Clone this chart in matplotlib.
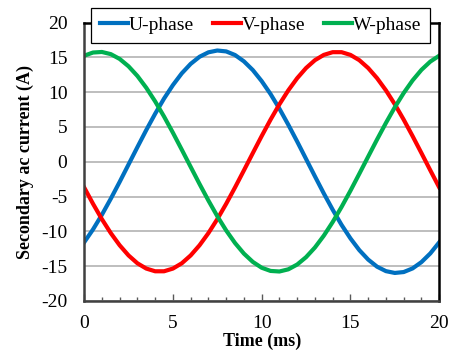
import matplotlib
matplotlib.use('Agg')
import matplotlib.pyplot as plt
from matplotlib.ticker import MultipleLocator

plt.rcParams['font.family'] = ['Liberation Serif', 'DejaVu Serif']
plt.rcParams['axes.unicode_minus'] = False

# sampled secondary currents, 0.5 ms steps
time_ms = [0.0, 0.5, 1.0, 1.5, 2.0, 2.5, 3.0, 3.5, 4.0, 4.5,
           5.0, 5.5, 6.0, 6.5, 7.0, 7.5, 8.0, 8.5, 9.0, 9.5,
           10.0, 10.5, 11.0, 11.5, 12.0, 12.5, 13.0, 13.5, 14.0, 14.5,
           15.0, 15.5, 16.0, 16.5, 17.0, 17.5, 18.0, 18.5, 19.0, 19.5, 20.0]

i_u = [-11.59, -9.73, -7.62, -5.32, -2.90, -0.40, 2.10, 4.56, 6.90, 9.08,
       11.02, 12.71, 14.07, 15.09, 15.73, 15.99, 15.86, 15.34, 14.43, 13.18,
       11.59, 9.73, 7.62, 5.32, 2.90, 0.40, -2.10, -4.56, -6.90, -9.08,
       -11.02, -12.71, -14.07, -15.09, -15.73, -15.99, -15.86, -15.34, -14.43, -13.18, -11.59]

i_v = [-3.69, -6.05, -8.26, -10.26, -12.01, -13.47, -14.60, -15.36, -15.75, -15.75,
       -15.36, -14.60, -13.47, -12.01, -10.26, -8.26, -6.05, -3.69, -1.24, 1.24,
       3.69, 6.05, 8.26, 10.26, 12.01, 13.47, 14.60, 15.36, 15.75, 15.75,
       15.36, 14.60, 13.47, 12.01, 10.26, 8.26, 6.05, 3.69, 1.24, -1.24, -3.69]

i_w = [15.24, 15.70, 15.78, 15.47, 14.78, 13.72, 12.33, 10.63, 8.67, 6.50,
       4.17, 1.73, -0.74, -3.20, -5.58, -7.83, -9.88, -11.69, -13.21, -14.40,
       -15.24, -15.70, -15.78, -15.47, -14.78, -13.72, -12.33, -10.63, -8.67, -6.50,
       -4.17, -1.73, 0.74, 3.20, 5.58, 7.83, 9.88, 11.69, 13.21, 14.40, 15.24]

fig = plt.figure(figsize=(4.5, 3.59), dpi=100)
ax = fig.add_axes([0.187, 0.162, 0.789, 0.775])

ax.plot(time_ms, i_u, color='#0070C0', lw=3, label='U-phase')
ax.plot(time_ms, i_v, color='#FF0000', lw=3, label='V-phase')
ax.plot(time_ms, i_w, color='#00B050', lw=3, label='W-phase')

ax.set_xlim(0, 20)
ax.set_ylim(-20, 20)
ax.xaxis.set_major_locator(MultipleLocator(5))
ax.xaxis.set_minor_locator(MultipleLocator(1))
ax.yaxis.set_major_locator(MultipleLocator(5))

ax.yaxis.grid(True, color='#b3b3b3', lw=1.2)
ax.set_axisbelow(True)

ax.tick_params(axis='x', which='major', direction='in', length=5, width=1,
               color='#595959', labelsize=14, pad=10)
ax.tick_params(axis='x', which='minor', direction='in', length=3, width=1,
               color='#595959')
ax.tick_params(axis='y', length=0, labelsize=14, pad=12)

for side in ['left', 'bottom']:
    ax.spines[side].set_color('#404040')
    ax.spines[side].set_linewidth(1.8)
for side in ['right', 'top']:
    ax.spines[side].set_color('black')
    ax.spines[side].set_linewidth(1.8)

ax.set_xlabel('Time (ms)', fontsize=13, fontweight='bold', labelpad=1)
ax.set_ylabel('Secondary ac current (A)', fontsize=13, fontweight='bold', labelpad=5)

leg = ax.legend(loc='upper center', bbox_to_anchor=(0.579, 0.978),
                bbox_transform=fig.transFigure, ncol=3, fontsize=14,
                frameon=True, fancybox=False, edgecolor='black',
                handlelength=1.45, handletextpad=0.05, columnspacing=0.95,
                borderpad=0.45, borderaxespad=0)
leg.get_frame().set_linewidth(0.9)
leg.get_frame().set_alpha(1)

fig.savefig('out.png', dpi=100)
